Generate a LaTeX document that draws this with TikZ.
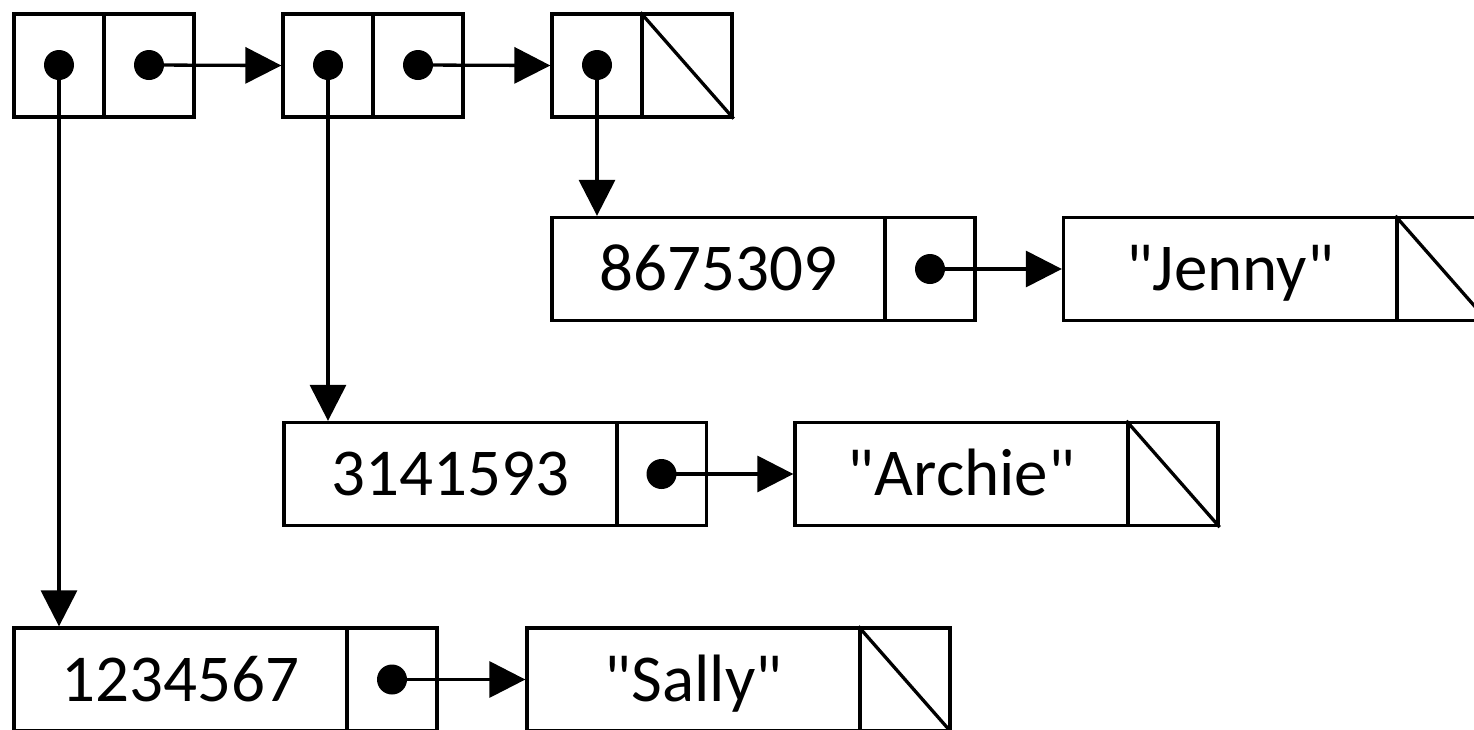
\documentclass[tikz,border=0pt]{standalone}
\usepackage{fontspec}
\defaultfontfeatures[\rmfamily,\sffamily]{}
\setmainfont{Carlito}
\usetikzlibrary{arrows.meta}
\begin{document}
\begin{tikzpicture}[x=1pt,y=-1pt,line width=3.3pt,
  cell/.style={draw,rectangle,inner sep=0pt,minimum width=90pt,minimum height=103pt,line width=3.3pt},
  valcell/.style={draw,rectangle,inner sep=0pt,minimum width=333pt,minimum height=103pt,line width=3.3pt},
  dot/.style={circle,fill=black,inner sep=0pt,minimum size=30pt},
  lbl/.style={inner sep=0pt,anchor=base,font=\fontsize{67}{80}\selectfont},
  arr/.style={-{Triangle[length=36pt,width=36pt]},line width=3.3pt}]
\clip (0,0) rectangle (1474,729);
\fill[white] (0,0) rectangle (1474,729);
% top spine
\node[cell] (c1a) at (59,65.5) {};
\node[cell] (c1b) at (149,65.5) {};
\node[cell] (c2a) at (328,65.5) {};
\node[cell] (c2b) at (418,65.5) {};
\node[cell] (c3a) at (597,65.5) {};
\node[cell] (c3b) at (687,65.5) {};
\draw (c3b.north west) -- (c3b.south east);
\node[dot] (d1a) at (59,65) {};
\node[dot] (d1b) at (149,65) {};
\node[dot] (d2a) at (328,65) {};
\node[dot] (d2b) at (418,65) {};
\node[dot] (d3a) at (597,65) {};
% Jenny row
\node[valcell] (jv) at (718.5,269) {};
\node[cell] (jp) at (930,269) {};
\node[valcell] (js) at (1230,269) {};
\node[cell] (jn) at (1442,269) {};
\draw (jn.north west) -- (jn.south east);
\node[lbl] (jvt) at ([yshift=-21.5pt]jv.center) {8675309};
\node[lbl] (jst) at ([yshift=-21.5pt]js.center) {"Jenny"};
\node[dot] (jd) at (930,269) {};
% Archie row
\node[valcell] (av) at (450.5,474) {};
\node[cell] (ap) at (661.5,474) {};
\node[valcell] (as) at (961.5,474) {};
\node[cell] (an) at (1173,474) {};
\draw (an.north west) -- (an.south east);
\node[lbl] (avt) at ([yshift=-21.5pt]av.center) {3141593};
\node[lbl] (ast) at ([yshift=-21.5pt]as.center) {"Archie"};
\node[dot] (ad) at (661.5,474) {};
% Sally row
\node[valcell] (sv) at (180.5,679.5) {};
\node[cell] (sp) at (392,679.5) {};
\node[valcell] (ss) at (693.5,679.5) {};
\node[cell] (sn) at (905,679.5) {};
\draw (sn.north west) -- (sn.south east);
\node[lbl] (svt) at ([yshift=-21.5pt]sv.center) {1234567};
\node[lbl] (sst) at ([yshift=-21.5pt]ss.center) {"Sally"};
\node[dot] (sd) at (392,679.5) {};
% connectors
\draw[arr] (d1b.center) -- (c2a.west);
\draw[arr] (d2b.center) -- (c3a.west);
\draw[arr] (d3a.center) -- (d3a.center |- jv.north);
\draw[arr] (d2a.center) -- (d2a.center |- av.north);
\draw[arr] (d1a.center) -- (d1a.center |- sv.north);
\draw[arr] (jd.center) -- (js.west);
\draw[arr] (ad.center) -- (as.west);
\draw[arr] (sd.center) -- (ss.west);
\end{tikzpicture}
\end{document}
